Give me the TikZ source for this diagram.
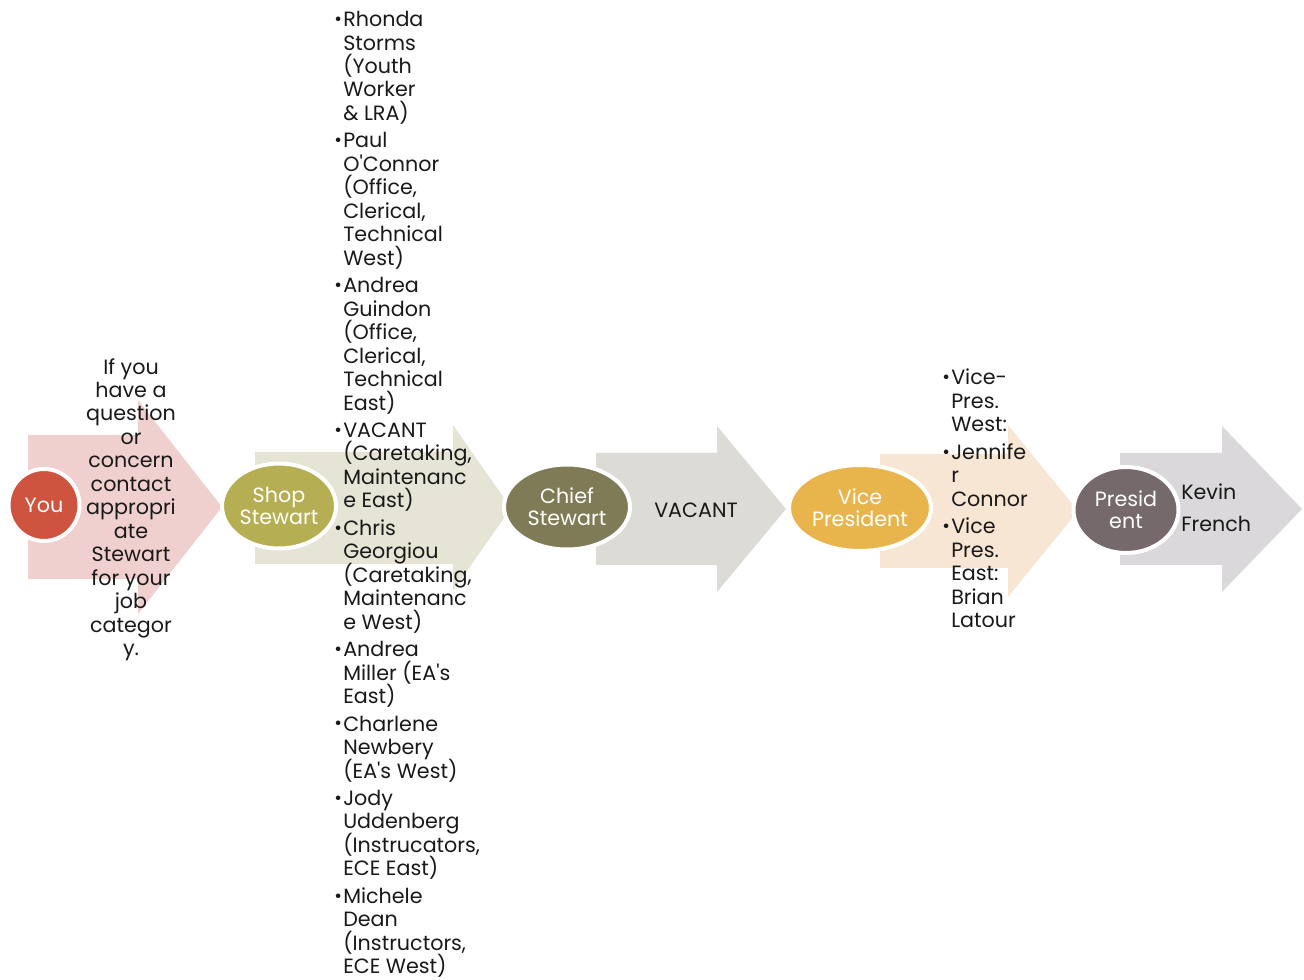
\documentclass[tikz,border=0pt]{standalone}
\usepackage{fontspec}
\setmainfont{Poppins}[Ligatures=TeXOff]
\usetikzlibrary{shapes.geometric}

\definecolor{youred}{HTML}{CF543F}
\definecolor{shopolive}{HTML}{B5AE53}
\definecolor{chiefolive}{HTML}{7E7B56}
\definecolor{vicegold}{HTML}{E8B54D}
\definecolor{presgrey}{HTML}{75696B}
\definecolor{arrowA}{HTML}{F0D0CE}
\definecolor{arrowB}{HTML}{E5E4D5}
\definecolor{arrowC}{HTML}{DCDBD6}
\definecolor{arrowD}{HTML}{F8E6D4}
\definecolor{arrowE}{HTML}{DAD8DA}

\newcommand\tightlines{\lineskiplimit=-20pt\relax}
\tikzset{stage/.style n args={3}{ellipse, fill=#1, draw=white, line width=3pt,
  minimum width=#2*0.75pt, minimum height=#3*0.75pt, inner sep=0pt,
  text=white, align=center, font=\fontsize{15.5}{16.5}\selectfont\tightlines}}
\tikzset{txt/.style={inner sep=0pt, text=black!90,
  font=\fontsize{15.5}{17.6}\selectfont\tightlines}}

\newcommand\itm{\llap{\raisebox{.1ex}{\scalebox{.9}{\textbullet}}\hspace{1pt}}}
\newcommand\gap{\\[3pt]}

\begin{document}
\begin{tikzpicture}[x=0.75pt, y=-0.75pt]
  \useasboundingbox (0,0) rectangle (1304,980);

  % block arrows
  \foreach \xa/\xb/\xc/\ym/\bh/\hh/\col in {28/138/222/507/72/107/arrowA,
      255/453/511/508/56/83/arrowB, 596/717/786/509/56/83/arrowC,
      880/1008/1078/511/57/86/arrowD, 1120/1222/1302/509/56/83/arrowE} {
    \fill[\col] (\xa,\ym-\bh) -- (\xb,\ym-\bh) -- (\xb,\ym-\hh) -- (\xc,\ym)
      -- (\xb,\ym+\hh) -- (\xb,\ym+\bh) -- (\xa,\ym+\bh) -- cycle;
  }

  % stages
  \node[stage={youred}{71}{72}] (you) at (44,505) {You};
  \node[stage={shopolive}{114}{85}] (shop) at (279,506) {Shop\\Stewart};
  \node[stage={chiefolive}{126}{85}] (chief) at (567,507) {Chief\\Stewart};
  \node[stage={vicegold}{142}{86}] (vice) at (860,508) {Vice\\President};
  \node[stage={presgrey}{105}{86}] (pres) at (1126,510) {Presid\\ent};

  % texts
  \node[txt, align=center, anchor=north] (ask) at (131,358)
    {If you\\have a\\question\\or\\concern\\contact\\appropri\\ate\\Stewart\\for your\\job\\categor\\y.};
  \node[txt, align=left, anchor=north west] (stewards) at (343,11)
    {\itm Rhonda\\Storms\\(Youth\\Worker\\\& LRA)\gap
     \itm Paul\\O'Connor\\(Office,\\Clerical,\\Technical\\West)\gap
     \itm Andrea\\Guindon\\(Office,\\Clerical,\\Technical\\East)\gap
     \itm VACANT\\(Caretaking,\\Maintenanc\\e East)\gap
     \itm Chris\\Georgiou\\(Caretaking,\\Maintenanc\\e West)\gap
     \itm Andrea\\Miller (EA's\\East)\gap
     \itm Charlene\\Newbery\\(EA's West)\gap
     \itm Jody\\Uddenberg\\(Instrucators,\\ECE East)\gap
     \itm Michele\\Dean\\(Instructors,\\ECE West)};
  \node[txt] (chiefname) at (696,510) {VACANT};
  \node[txt, align=left, anchor=north west] (vps) at (951,369)
    {\itm Vice-\\Pres.\\West:\gap
     \itm Jennife\\r\\Connor\gap
     \itm Vice\\Pres.\\East:\\Brian\\Latour};
  \node[txt, align=left, anchor=north west] (presname) at (1181,484)
    {Kevin\\[6pt]French};
\end{tikzpicture}
\end{document}
